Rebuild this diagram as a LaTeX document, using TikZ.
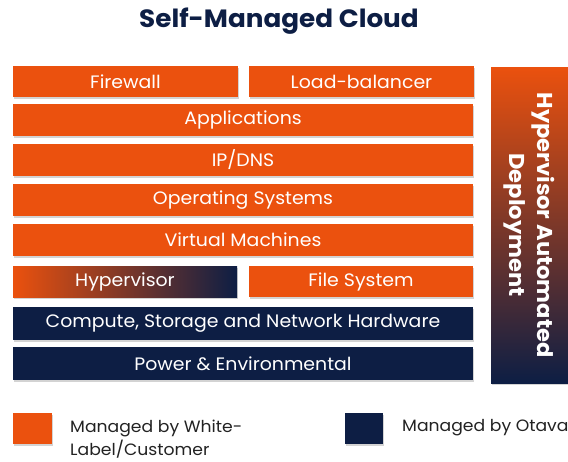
\documentclass[tikz,border=0pt]{standalone}
\usepackage{fontspec}
\setmainfont{Poppins}[FakeStretch=1.05]
\usetikzlibrary{shadows}
\definecolor{ora}{HTML}{EB510E}
\definecolor{nav}{HTML}{0D1E44}
\definecolor{txt}{HTML}{222222}
\begin{document}
\begin{tikzpicture}[x=1pt,y=-1pt,
  box/.style={anchor=north west,inner sep=0pt,outer sep=0pt,text=white,
    font=\fontsize{18}{20}\selectfont,
    drop shadow={opacity=0.35,shadow xshift=1pt,shadow yshift=-1.5pt}},
  obox/.style={box,fill=ora},
  nbox/.style={box,fill=nav},
  legtext/.style={anchor=west,align=left,text=txt,font=\fontsize{16.4}{23}\selectfont,inner sep=0pt}]
\useasboundingbox (0,0) rectangle (568,461);
\node[text=nav,font=\fontsize{25}{28}\bfseries\selectfont] (title) at (279,21) {Self-Managed Cloud};
\node[obox,minimum width=225,minimum height=31] (fw) at (13,66) {Firewall};
\node[obox,minimum width=225,minimum height=31] (lb) at (249,66) {Load-balancer};
\node[obox,minimum width=460,minimum height=32] (app) at (13,104) {Applications};
\node[obox,minimum width=460,minimum height=32] (ip) at (13,144) {IP/DNS};
\node[obox,minimum width=460,minimum height=32] (os) at (13,184) {Operating Systems};
\node[obox,minimum width=460,minimum height=32] (vm) at (13,224) {Virtual Machines};
\node[box,left color=ora,right color=nav,minimum width=224,minimum height=31] (hv) at (13,266) {Hypervisor};
\node[obox,minimum width=224,minimum height=31] (fs) at (249,266) {File System};
\node[nbox,minimum width=460,minimum height=33] (cs) at (13,307) {Compute, Storage and Network Hardware};
\node[nbox,minimum width=460,minimum height=33] (pw) at (13,347) {Power \& Environmental};
\node[box,top color=ora,bottom color=nav,minimum width=77,minimum height=316] (bar) at (491,67) {};
\node[text=white,rotate=-90,align=center,font=\fontsize{21.5}{28}\bfseries\selectfont] (bart) at (bar.center) {Hypervisor Automated\\Deployment};
\node[obox,minimum width=39,minimum height=31] (lo) at (13,413) {};
\node[legtext] (lot) at (70,439.5) {Managed by White-\\Label/Customer};
\node[nbox,minimum width=38,minimum height=31] (ln) at (345,413) {};
\node[legtext] (lnt) at (402,428) {Managed by Otava};
\end{tikzpicture}
\end{document}
